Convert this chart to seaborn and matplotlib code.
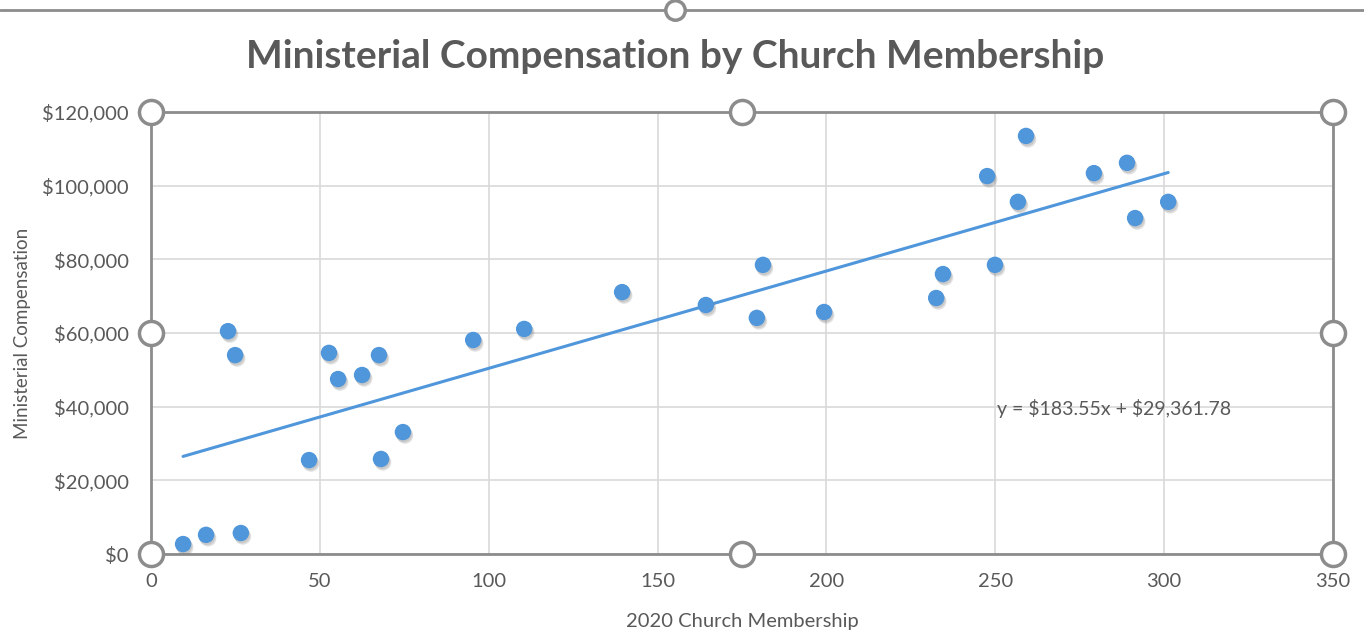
import numpy as np
import pandas as pd
import matplotlib
matplotlib.use("Agg")
import matplotlib.pyplot as plt
import matplotlib.patheffects as pe
from matplotlib.ticker import FuncFormatter, MultipleLocator
import seaborn as sns

# ------------------------------------------------------------
# Data
# ------------------------------------------------------------
membership = [9.5, 16.3, 26.6, 22.8, 24.9, 46.8, 52.7, 55.4, 62.5, 67.5,
              68.1, 74.6, 95.4, 110.5, 139.5, 164.3, 179.4, 181.2, 199.3, 232.5,
              234.5, 247.6, 249.9, 256.7, 259.1, 279.2, 289.0, 291.4, 301.2]
compensation = [2700, 5200, 5700, 60500, 54000, 25500, 54600, 47500, 48600, 54000,
                25800, 33100, 58100, 61100, 71100, 67600, 64100, 78500, 65700, 69500,
                76000, 102600, 78500, 95600, 113500, 103400, 106200, 91200, 95600]
equation_label = "y = $183.55x + $29,361.78"

df = pd.DataFrame({"members": membership, "comp": compensation})

BLUE = "#4F96DB"
GRAY_TXT = "#595959"
HANDLE_GRAY = "#8c8c8c"

sns.set_theme(style="whitegrid")
plt.rcParams["font.family"] = ["Lato", "DejaVu Sans"]

fig = plt.figure(figsize=(13.64, 6.34), dpi=100)
ax = fig.add_axes([151 / 1364, 80 / 634, 1182 / 1364, 442 / 634])

sns.regplot(data=df, x="members", y="comp", scatter=False, ci=None,
            color=BLUE, line_kws={"linewidth": 2.2}, ax=ax)
sns.scatterplot(data=df, x="members", y="comp", color=BLUE, s=140,
                edgecolor="none", ax=ax, zorder=4)
ax.collections[-1].set_path_effects([
    pe.SimplePatchShadow(offset=(1.5, -2.5), shadow_rgbFace="#777777", alpha=0.22),
    pe.SimplePatchShadow(offset=(0.8, -1.5), shadow_rgbFace="#777777", alpha=0.22),
    pe.Normal(),
])

ax.set_xlim(0, 350)
ax.set_ylim(0, 120000)
ax.xaxis.set_major_locator(MultipleLocator(50))
ax.yaxis.set_major_locator(MultipleLocator(20000))
ax.yaxis.set_major_formatter(FuncFormatter(lambda v, p: f"${v:,.0f}"))
ax.grid(True, color="#d9d9d9", linewidth=1.2)
for s in ax.spines.values():
    s.set_color(HANDLE_GRAY)
    s.set_linewidth(2)
ax.tick_params(colors=GRAY_TXT, labelsize=14.5, length=0)
ax.tick_params(axis="y", pad=16)
ax.tick_params(axis="x", pad=14)

ax.set_xlabel("2020 Church Membership", color=GRAY_TXT, fontsize=14.5, labelpad=16)
ax.set_ylabel("Ministerial Compensation", color=GRAY_TXT, fontsize=13.5, labelpad=8)

ax.text(250.5, 39400, equation_label, color=GRAY_TXT, fontsize=14,
        ha="left", va="center", parse_math=False)

fig.text(675 / 1364, 1 - 57 / 634, "Ministerial Compensation by Church Membership",
         ha="center", va="center", fontsize=28, fontweight="bold", color=GRAY_TXT)

# selection handles around the plot area
hx = [0, 0.5, 1, 0, 1, 0, 0.5, 1]
hy = [1, 1, 1, 0.5, 0.5, 0, 0, 0]
ax.scatter(hx, hy, s=300, facecolor="white", edgecolor=HANDLE_GRAY, linewidth=2.5,
           transform=ax.transAxes, clip_on=False, zorder=10)

# chart area border at the top
fig.add_artist(plt.Line2D([0, 1], [1 - 10 / 634] * 2, color=HANDLE_GRAY,
                          linewidth=2, transform=fig.transFigure))
fig.add_artist(plt.Line2D([675 / 1364], [1 - 10 / 634], marker="o", markersize=14,
                          markerfacecolor="white", markeredgecolor=HANDLE_GRAY,
                          markeredgewidth=2.5, transform=fig.transFigure))

fig.savefig("out.png", dpi=100)
